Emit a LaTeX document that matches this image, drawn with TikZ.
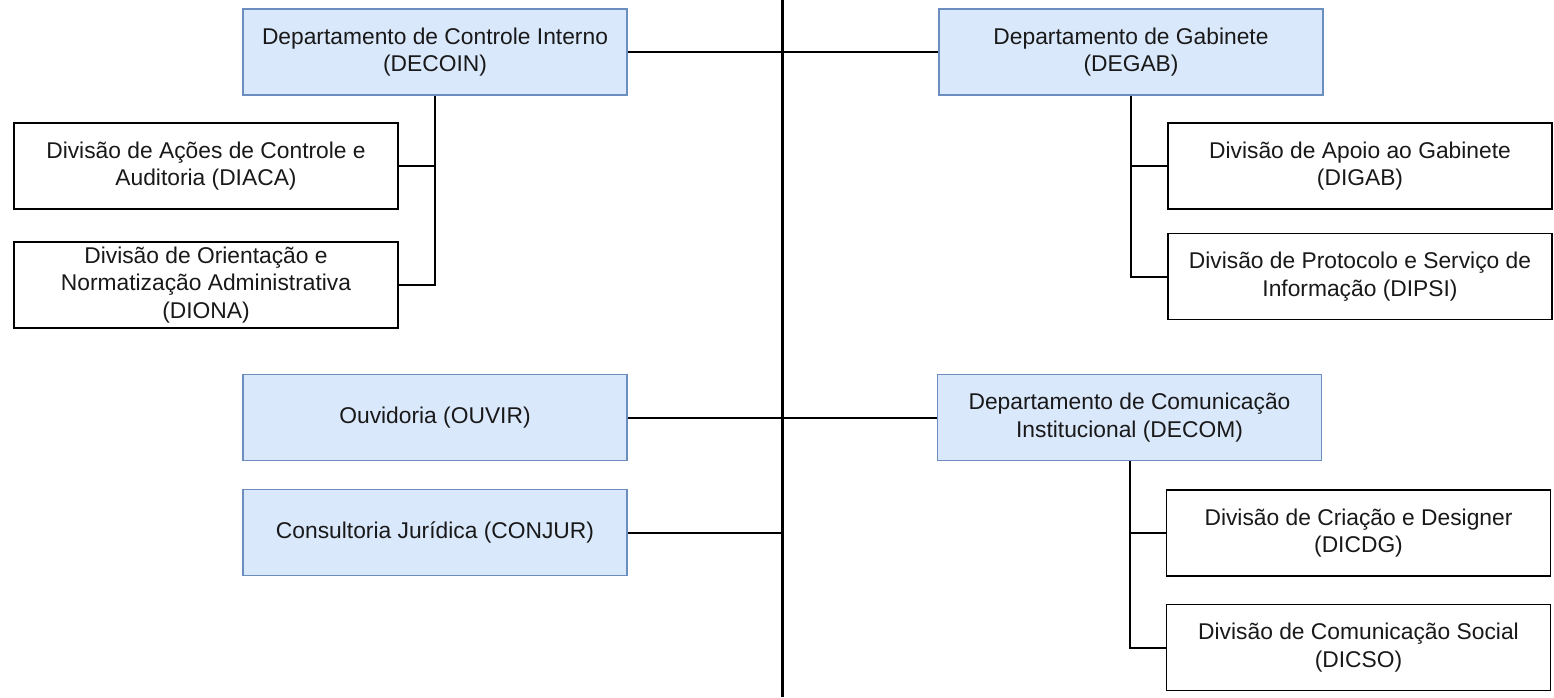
\documentclass[tikz,border=0pt]{standalone}
\usepackage{fontspec}
\setmainfont{Liberation Sans}
\begin{document}
\begin{tikzpicture}[x=1pt,y=-1pt,
  box/.style={draw=black,line width=1.6pt,fill=white,minimum width=384pt,minimum height=86pt,inner sep=0pt,align=center,font=\fontsize{22.8}{27.4}\selectfont,text=black!90},
  dept/.style={box,draw=blue6c,fill=bluedae},
  conn/.style={draw=black,line width=2pt},
  spine/.style={draw=black,line width=3pt}]
\definecolor{blue6c}{HTML}{6C8EBF}
\definecolor{bluedae}{HTML}{DAE8FC}
\useasboundingbox (0,0) rectangle (1554,697);
\fill[white] (0,0) rectangle (1554,697);
\coordinate (top) at (782,0);
\coordinate (bot) at (782,697);
\draw[spine] (top) -- (bot);

\node[dept] (decoin) at (435,52) {Departamento de Controle Interno\\(DECOIN)};
\node[dept] (degab) at (1131,52) {Departamento de Gabinete\\(DEGAB)};
\node[box] (diaca) at (206,166) {Divisão de Ações de Controle e\\Auditoria (DIACA)};
\node[box] (diona) at (206,285) {Divisão de Orientação e\\Normatização Administrativa\\(DIONA)};
\node[box] (digab) at (1360,166) {Divisão de Apoio ao Gabinete\\(DIGAB)};
\node[box] (dipsi) at (1360,276.5) {Divisão de Protocolo e Serviço de\\Informação (DIPSI)};
\node[dept] (ouvir) at (435,417.5) {Ouvidoria (OUVIR)};
\node[dept] (conjur) at (435,532.5) {Consultoria Jurídica (CONJUR)};
\node[dept] (decom) at (1129.5,417.5) {Departamento de Comunicação\\Institucional (DECOM)};
\node[box] (dicdg) at (1358.5,533) {Divisão de Criação e Designer\\(DICDG)};
\node[box] (dicso) at (1358.5,647.5) {Divisão de Comunicação Social\\(DICSO)};

\draw[conn] (decoin.east) -- (decoin.east -| top);
\draw[conn] (degab.west) -- (degab.west -| top);
\draw[conn] (ouvir.east) -- (ouvir.east -| top);
\draw[conn] (conjur.east) -- (conjur.east -| top);
\draw[conn] (decom.west) -- (decom.west -| top);

\draw[conn] (decoin.south) |- (diaca.east);
\draw[conn] (decoin.south) |- (diona.east);
\draw[conn] (degab.south) |- (digab.west);
\draw[conn] (degab.south) |- (dipsi.west);
\draw[conn] (decom.south) |- (dicdg.west);
\draw[conn] (decom.south) |- (dicso.west);
\end{tikzpicture}
\end{document}
